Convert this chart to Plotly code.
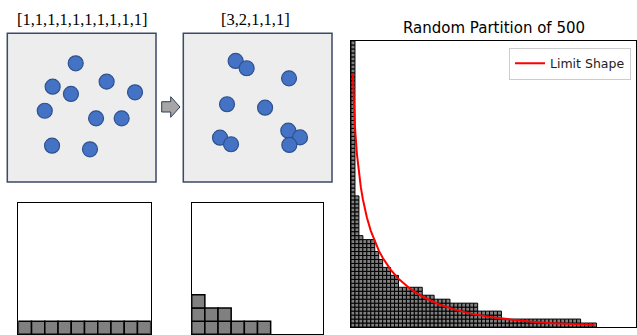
import plotly.graph_objects as go

W, H = 637, 335

# ---------------- data ----------------
title_left = "[1,1,1,1,1,1,1,1,1,1]"
title_mid = "[3,2,1,1,1]"

# circle centres (panel-local 0..1 coordinates)
circles_a_x = [0.46, 0.305, 0.428, 0.668, 0.859, 0.252, 0.597, 0.769, 0.301, 0.556]
circles_a_y = [0.798, 0.641, 0.592, 0.675, 0.603, 0.479, 0.428, 0.428, 0.244, 0.220]
circles_b_x = [0.352, 0.426, 0.711, 0.294, 0.550, 0.247, 0.321, 0.706, 0.785, 0.713]
circles_b_y = [0.814, 0.765, 0.697, 0.523, 0.500, 0.298, 0.254, 0.345, 0.300, 0.249]

# Young diagrams (column heights)
partition_c = [1, 1, 1, 1, 1, 1, 1, 1, 1, 1]
partition_d = [3, 2, 2, 1, 1, 1]

# random partition of 500 (column heights)
partition_500 = ([72, 33, 23, 22, 22, 22, 19, 17, 15, 15, 13, 13]
                 + [10] * 6 + [8] * 3 + [7] * 4 + [6] * 7 + [4] * 6
                 + [2] * 20 + [1] * 4)

# limit shape
limit_x = [0.45, 0.6, 0.8, 1, 1.5, 2, 2.5, 3, 4, 5, 6, 7, 8, 10, 12, 15, 18,
           22, 26, 30, 35, 40, 45, 50, 55, 61.5]
limit_y = [63.96, 59.03, 54.11, 50.31, 43.49, 38.73, 35.08, 32.15, 27.62, 24.21,
           21.50, 19.28, 17.42, 14.44, 12.16, 9.58, 7.67, 5.80, 4.44, 3.43, 2.51,
           1.85, 1.37, 1.02, 0.76, 0.52]


def px_x(x):
    return x / W


def px_y(y):
    return 1 - y / H


fig = go.Figure()

# ---------------- right panel ----------------
shapes = []
for i, h in enumerate(partition_500):
    for j in range(h):
        shapes.append(dict(type="rect", xref="x", yref="y", x0=i, x1=i + 1, y0=j, y1=j + 1,
                           fillcolor="#808080", line=dict(color="black", width=1), layer="below"))

fig.add_trace(go.Scatter(x=limit_x, y=limit_y, mode="lines", name="Limit Shape",
                         line=dict(color="red", width=2), xaxis="x", yaxis="y"))

# ---------------- circle panels ----------------
for xs, ys, ax in [(circles_a_x, circles_a_y, "2"), (circles_b_x, circles_b_y, "3")]:
    shapes.append(dict(type="rect", xref=f"x{ax} domain", yref=f"y{ax} domain", x0=0, x1=1, y0=0, y1=1,
                       fillcolor="#EDEDED", line=dict(color="#3B4A68", width=1.5), layer="below"))
    fig.add_trace(go.Scatter(x=xs, y=ys, mode="markers", showlegend=False, cliponaxis=False,
                             marker=dict(size=15, color="#4472C4", line=dict(color="#2F528F", width=1.2)),
                             xaxis=f"x{ax}", yaxis=f"y{ax}"))

# ---------------- Young diagrams ----------------
for part, ax in [(partition_c, "4"), (partition_d, "5")]:
    for i, h in enumerate(part):
        for j in range(h):
            shapes.append(dict(type="rect", xref=f"x{ax}", yref=f"y{ax}", x0=i, x1=i + 1, y0=j, y1=j + 1,
                               fillcolor="#808080", line=dict(color="black", width=1.5)))
    fig.add_trace(go.Scatter(x=[None], y=[None], showlegend=False, xaxis=f"x{ax}", yaxis=f"y{ax}"))

# arrow (decoration)
arrow_pts = [(161.7, 101.7), (170.7, 101.7), (170.7, 96.7), (180, 107), (170.7, 117.3),
             (170.7, 112), (161.7, 112)]
path = "M " + " L ".join(f"{px_x(x):.5f},{px_y(y):.5f}" for x, y in arrow_pts) + " Z"
shapes.append(dict(type="path", xref="paper", yref="paper", path=path,
                   fillcolor="#A6A6A6", line=dict(color="#2F3D5A", width=1)))

noax = dict(showticklabels=False, ticks="", showgrid=False, zeroline=False)

fig.update_layout(
    width=W, height=H,
    margin=dict(l=0, r=0, t=0, b=0),
    paper_bgcolor="white", plot_bgcolor="white",
    shapes=shapes,
    xaxis=dict(domain=[px_x(351), px_x(636)], range=[0, 72], showline=True, mirror=True,
               linecolor="black", linewidth=1, **noax),
    yaxis=dict(domain=[px_y(327), px_y(41)], range=[0, 72], showline=True, mirror=True,
               linecolor="black", linewidth=1, **noax),
    xaxis2=dict(domain=[px_x(7.3), px_x(156)], range=[0, 1], anchor="y2", **noax),
    yaxis2=dict(domain=[px_y(182), px_y(33.3)], range=[0, 1], anchor="x2", **noax),
    xaxis3=dict(domain=[px_x(183.3), px_x(332)], range=[0, 1], anchor="y3", **noax),
    yaxis3=dict(domain=[px_y(182), px_y(33.3)], range=[0, 1], anchor="x3", **noax),
    xaxis4=dict(domain=[px_x(18.3), px_x(150.7)], range=[0, 10], anchor="y4", showline=True, mirror=True,
                linecolor="black", linewidth=1, **noax),
    yaxis4=dict(domain=[px_y(334.3), px_y(202.7)], range=[0, 10], anchor="x4", showline=True, mirror=True,
                linecolor="black", linewidth=1, **noax),
    xaxis5=dict(domain=[px_x(191.7), px_x(323.3)], range=[0, 10], anchor="y5", showline=True, mirror=True,
                linecolor="black", linewidth=1, **noax),
    yaxis5=dict(domain=[px_y(334.3), px_y(202.7)], range=[0, 10], anchor="x5", showline=True, mirror=True,
                linecolor="black", linewidth=1, **noax),
    showlegend=True,
    legend=dict(x=px_x(631), xanchor="right", y=px_y(47.7), yanchor="top",
                bgcolor="white", bordercolor="#CCCCCC", borderwidth=1,
                font=dict(family="DejaVu Sans", size=12.5, color="#222")),
    annotations=[
        dict(text=title_left, xref="paper", yref="paper", x=px_x(82.5), y=px_y(19),
             xanchor="center", yanchor="middle", showarrow=False,
             font=dict(family="Liberation Serif", size=16.5, color="black")),
        dict(text=title_mid, xref="paper", yref="paper", x=px_x(255), y=px_y(19),
             xanchor="center", yanchor="middle", showarrow=False,
             font=dict(family="Liberation Serif", size=16.5, color="black")),
        dict(text="Random Partition of 500", xref="paper", yref="paper", x=px_x(493.5), y=px_y(28),
             xanchor="center", yanchor="middle", showarrow=False,
             font=dict(family="DejaVu Sans", size=15, color="black")),
    ],
)

fig.write_html("out.html")
